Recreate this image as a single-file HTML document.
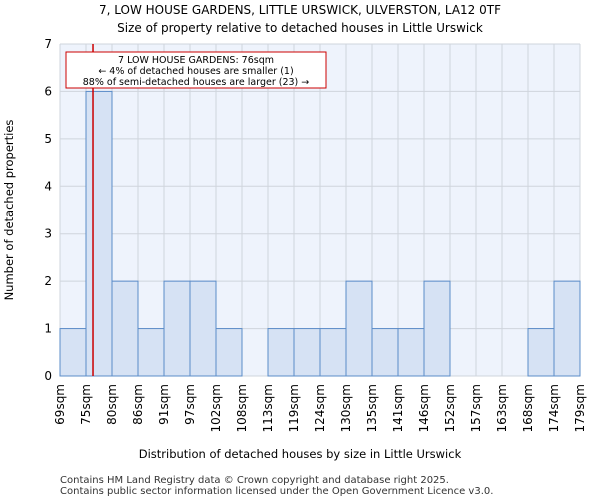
<!DOCTYPE html>
<html><head><meta charset="utf-8"><style>
body{margin:0;background:#fff;font-family:"DejaVu Sans","Liberation Sans",sans-serif;}
</style></head><body>
<svg id="chart" width="600" height="500" xmlns="http://www.w3.org/2000/svg" font-family="DejaVu Sans, Liberation Sans, sans-serif">
<text x="300" y="14" text-anchor="middle" font-size="12">7, LOW HOUSE GARDENS, LITTLE URSWICK, ULVERSTON, LA12 0TF</text>
<text x="300" y="32" text-anchor="middle" font-size="12">Size of property relative to detached houses in Little Urswick</text>
<rect x="60" y="44" width="520" height="332" fill="#eef3fc"/>
<g id="grid"></g><g id="bars"></g><g id="axes"></g>
<text x="300" y="458" text-anchor="middle" font-size="11.5">Distribution of detached houses by size in Little Urswick</text>
<text transform="translate(13,210) rotate(-90)" text-anchor="middle" font-size="11.5">Number of detached properties</text>
<text x="60" y="483" font-size="10" fill="#333">Contains HM Land Registry data © Crown copyright and database right 2025.</text>
<text x="60" y="494" font-size="10" fill="#333">Contains public sector information licensed under the Open Government Licence v3.0.</text>
</svg>
<script>
const tickLabels=["69sqm","75sqm","80sqm","86sqm","91sqm","97sqm","102sqm","108sqm","113sqm","119sqm","124sqm","130sqm","135sqm","141sqm","146sqm","152sqm","157sqm","163sqm","168sqm","174sqm","179sqm"];
const counts=[1,6,2,1,2,2,1,0,1,1,1,2,1,1,2,0,0,0,1,2];
const yTicks=[0,1,2,3,4,5,6,7];
const markerBin=1.27;
const NS="http://www.w3.org/2000/svg";
const x0=60,x1=580,yTop=44,yBot=376,yMax=7;
const bw=(x1-x0)/counts.length;
const xs=i=>x0+i*bw;
const ys=v=>yBot-(v/yMax)*(yBot-yTop);
function mk(tag,attrs,parent){const e=document.createElementNS(NS,tag);for(const k in attrs)e.setAttribute(k,attrs[k]);parent.appendChild(e);return e;}
const grid=document.getElementById('grid'),bars=document.getElementById('bars'),axes=document.getElementById('axes');
yTicks.forEach(t=>{
 const l=mk('line',{x1:x0,x2:x1,y1:ys(t),y2:ys(t),stroke:'#cfd4dc','stroke-width':1},grid);
 
 
 const tx=mk('text',{x:x0-8,y:ys(t)+4,'text-anchor':'end','font-size':12},axes);
 tx.textContent=t;
 
 
});
tickLabels.forEach((lab,i)=>{
 const x=xs(i);
 const l=mk('line',{x1:x,x2:x,y1:yTop,y2:yBot,stroke:'#cfd4dc','stroke-width':1},grid);
 
 
 const tx=mk('text',{x:0,y:0,'text-anchor':'end','font-size':12,transform:`translate(${x+4},${yBot+8}) rotate(-90)`},axes);
 tx.textContent=lab;
 
 
});
counts.forEach((c,i)=>{
 if(c<=0)return;
 const r=mk('rect',{x:xs(i),y:ys(c),width:bw,height:yBot-ys(c),fill:'#d6e2f4',stroke:'#5b8cc8','stroke-width':1},bars);
 
 
});
const mx=xs(markerBin);
const ml=mk('line',{x1:mx,x2:mx,y1:yTop,y2:yBot,stroke:'#cc0000','stroke-width':1.5},axes);


const box=mk('rect',{x:66,y:52,width:260,height:36,fill:'#fff',stroke:'#cc0000','stroke-width':1},axes);


["7 LOW HOUSE GARDENS: 76sqm","← 4% of detached houses are smaller (1)","88% of semi-detached houses are larger (23) →"].forEach((s,i)=>{
 const t=mk('text',{x:196,y:63+i*11,'text-anchor':'middle','font-size':9.5},axes);
 t.textContent=s;
 
 
});
</script>
</body></html>
